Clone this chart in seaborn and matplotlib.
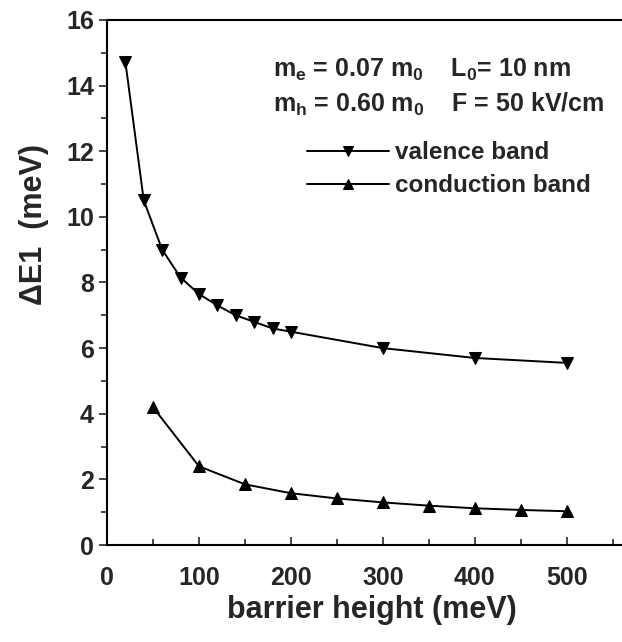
import matplotlib
matplotlib.use("Agg")
import matplotlib.pyplot as plt
import seaborn as sns
import pandas as pd
from matplotlib.ticker import MultipleLocator

valence_x = [20, 40, 60, 80, 100, 120, 140, 160, 180, 200, 300, 400, 500]
valence_y = [14.72, 10.5, 9.0, 8.15, 7.65, 7.3, 7.0, 6.8, 6.6, 6.5, 6.0, 5.7, 5.55]
conduction_x = [50, 100, 150, 200, 250, 300, 350, 400, 450, 500]
conduction_y = [4.2, 2.4, 1.85, 1.58, 1.42, 1.3, 1.2, 1.12, 1.07, 1.03]

sns.set_theme(style="ticks")
plt.rcParams['font.family'] = ['Liberation Sans', 'DejaVu Sans']
plt.rcParams['mathtext.fontset'] = 'custom'
plt.rcParams['mathtext.rm'] = 'Liberation Sans'
plt.rcParams['mathtext.it'] = 'Liberation Sans'
plt.rcParams['mathtext.bf'] = 'Liberation Sans:bold'

fig = plt.figure(figsize=(6.22, 6.42), dpi=100)
ax = fig.add_axes([0.172, 0.151, 0.828, 0.818])

dv = pd.DataFrame({"x": valence_x, "y": valence_y})
dc = pd.DataFrame({"x": conduction_x, "y": conduction_y})
sns.lineplot(data=dv, x="x", y="y", ax=ax, color="black", marker="v", markersize=9,
             markeredgecolor="black", linewidth=1.4, label="valence band")
sns.lineplot(data=dc, x="x", y="y", ax=ax, color="black", marker="^", markersize=9,
             markeredgecolor="black", linewidth=1.4, label="conduction band")

ax.set_xlim(0, 560)
ax.set_ylim(0, 16)
ax.xaxis.set_major_locator(MultipleLocator(100))
ax.xaxis.set_minor_locator(MultipleLocator(50))
ax.yaxis.set_major_locator(MultipleLocator(2))
ax.yaxis.set_minor_locator(MultipleLocator(1))
ax.tick_params(axis='x', which='both', direction='in', labelsize=18, pad=15)
ax.tick_params(axis='x', which='major', length=6, width=1.2)
ax.tick_params(axis='x', which='minor', length=4, width=1.2)
ax.tick_params(axis='y', which='both', direction='out', labelsize=18)
ax.tick_params(axis='y', which='major', length=6, width=1.2)
ax.tick_params(axis='y', which='minor', length=4, width=1.2)
for lab in ax.get_xticklabels() + ax.get_yticklabels():
    lab.set_fontweight("bold")
for s in ax.spines.values():
    s.set_linewidth(1.5)
    s.set_color("black")
ax.spines['right'].set_visible(False)

ax.set_xlabel("barrier height (meV)", fontsize=22, fontweight="bold")
ax.xaxis.set_label_coords(0.514, -0.095)
ax.set_ylabel("ΔE1  (meV)", fontsize=22, fontweight="bold")
ax.yaxis.set_label_coords(-0.112, 0.61)

ax.text(0.323, 0.905, r"m$_\mathbf{e}$ = 0.07 m$_\mathbf{0}$    L$_\mathbf{0}$= 10 nm",
        transform=ax.transAxes, fontsize=18, fontweight="bold", ha="left", va="center")
ax.text(0.323, 0.84, r"m$_\mathbf{h}$ = 0.60 m$_\mathbf{0}$    F = 50 kV/cm",
        transform=ax.transAxes, fontsize=18, fontweight="bold", ha="left", va="center")

leg = ax.legend(loc="upper left", bbox_to_anchor=(0.370, 0.787), frameon=False,
                prop={"size": 17.5, "weight": "bold"}, handlelength=3.37,
                handletextpad=0.25, labelspacing=0.4, borderaxespad=0)
for h in leg.legend_handles:
    h.set_markersize(7)

fig.savefig("out.png", dpi=100)
